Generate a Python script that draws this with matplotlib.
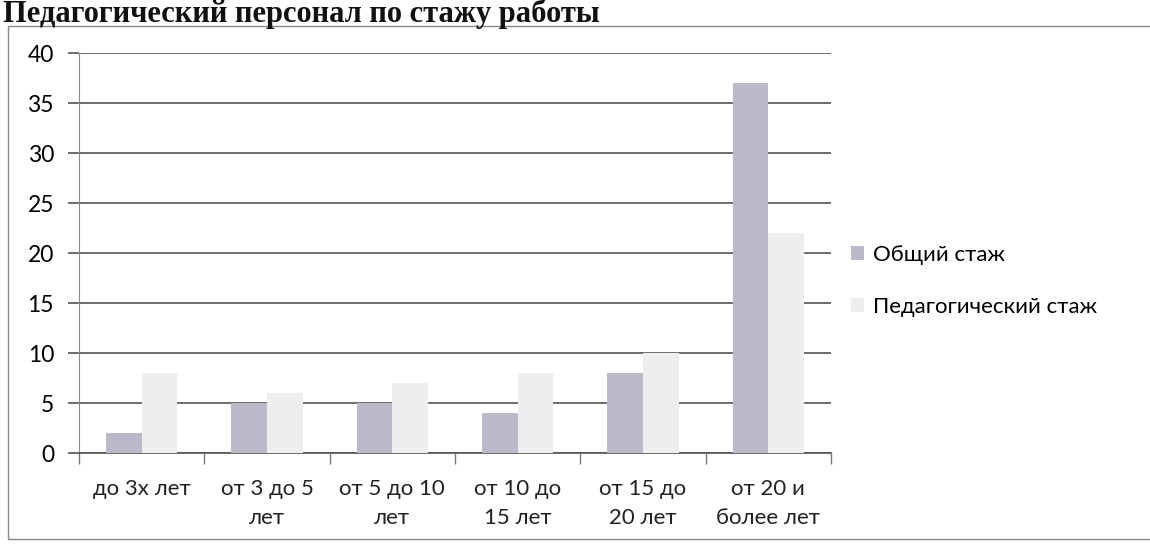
import matplotlib
matplotlib.use("Agg")
import matplotlib.pyplot as plt
from matplotlib.patches import Rectangle
import numpy as np

# Data
categories = ["до 3х лет", "от 3 до 5\nлет", "от 5 до 10\nлет", "от 10 до\n15 лет", "от 15 до\n20 лет", "от 20 и\nболее лет"]
total_exp = [2, 5, 5, 4, 8, 37]
teach_exp = [8, 6, 7, 8, 10, 22]
series_names = ["Общий стаж", "Педагогический стаж"]
yticks = [0, 5, 10, 15, 20, 25, 30, 35, 40]

plt.rcParams["font.family"] = ["Lato", "DejaVu Sans"]

fig = plt.figure(figsize=(11.5, 5.44), dpi=100)

# outer chart frame
frame = Rectangle((8 / 1150, 5 / 544), 1.2, 513 / 544, transform=fig.transFigure,
                  fill=False, edgecolor="#8a8a8a", linewidth=1.0)
fig.patches.append(frame)

# title
fig.text(0.003, 1 - 22 / 544, "Педагогический персонал по стажу работы",
         family="Liberation Serif", fontweight="bold", fontsize=22,
         ha="left", va="baseline", color="#111111")

ax = fig.add_axes([79 / 1150, 1 - 453 / 544, 752 / 1150, 400 / 544])

x = np.arange(len(categories))
w = 1 / 3.5
ax.bar(x - w / 2, total_exp, width=w, color="#b9b9c9", label=series_names[0], zorder=3)
ax.bar(x + w / 2, teach_exp, width=w, color="#eeeeee", label=series_names[1], zorder=3)

ax.set_xlim(-0.5, len(categories) - 0.5)
ax.set_ylim(0, 40)
ax.set_yticks(yticks)
ax.yaxis.grid(True, color="#555555", linewidth=1.2, zorder=0)
ax.tick_params(axis="y", length=8, color="#555555", width=1.2, labelsize=16.5, pad=10)

ax.set_xticks(np.arange(len(categories) + 1) - 0.5)
ax.set_xticklabels([])
ax.tick_params(axis="x", length=8, color="#777777", width=1, direction="out")
for i, lab in enumerate(categories):
    ax.text(i, -2.6, lab, ha="center", va="top", fontsize=16, linespacing=1.55,
            transform=ax.transData, color="#222222")

for s in ["top", "right"]:
    ax.spines[s].set_visible(False)
ax.spines["left"].set_color("#888888")
ax.spines["bottom"].set_color("#555555")
ax.spines["bottom"].set_linewidth(1.2)

ax.legend(loc="center left", bbox_to_anchor=(1.0, 0.43), frameon=False, fontsize=16,
          handlelength=0.6, handleheight=0.6, handletextpad=0.4, labelspacing=1.45,
          borderaxespad=0.5)

fig.savefig("out.png", dpi=100)
